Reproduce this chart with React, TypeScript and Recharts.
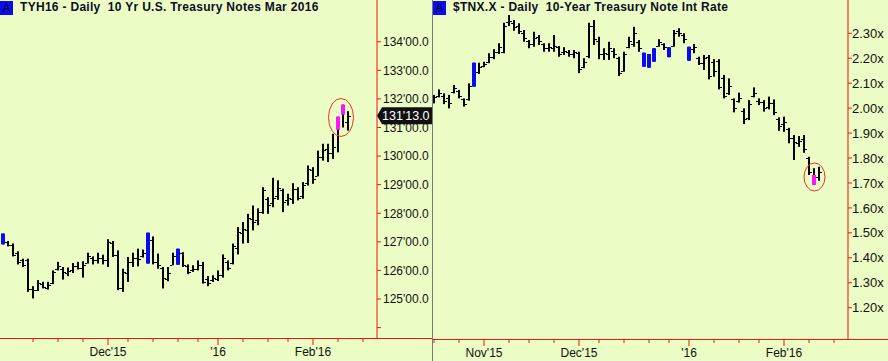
import React from 'react';
import { ComposedChart, Bar, XAxis, YAxis, ReferenceDot } from 'recharts';

const BG = '#ecfcc5';
const RED = '#f01414';
const FONT = 'Arial, "Liberation Sans", sans-serif';

// TYH16 daily bars, index 0 = first visible session (early Nov 2015)
const tyHigh = [
  127.29, 127.03, 126.94, 126.67, 126.41, 126.41, 125.45, 125.66, 125.6, 125.6,
  126.0, 126.3, 126.12, 126.1, 126.26, 126.3, 126.32, 126.62, 126.49, 126.62,
  126.55, 127.09, 127.03, 126.7, 126.06, 126.47, 126.62, 126.76, 126.73, 127.32,
  127.19, 126.59, 126.12, 126.12, 126.62, 126.76, 126.64, 126.21, 126.18, 126.35,
  126.3, 125.8, 125.83, 126.0, 126.56, 126.35, 126.94, 127.52, 127.69, 127.98,
  128.27, 128.17, 128.91, 128.56, 129.24, 129.15, 128.86, 128.68, 129.05, 128.91,
  129.09, 129.67, 129.61, 130.19, 130.43, 130.43, 130.78, 131.38, 131.8, 131.57,
];
const tyLow = [
  126.91, 126.84, 126.49, 126.21, 126.12, 125.25, 125.02, 125.28, 125.37, 125.33,
  125.52, 126.0, 125.68, 125.8, 125.91, 126.03, 125.75, 126.24, 126.21, 126.24,
  126.21, 126.12, 126.47, 125.31, 125.25, 125.6, 126.12, 126.14, 126.45, 126.24,
  126.21, 126.06, 125.37, 125.62, 126.18, 126.2, 126.12, 125.87, 125.95, 126.0,
  125.54, 125.45, 125.6, 125.63, 125.75, 126.0, 126.21, 126.56, 126.94, 126.96,
  127.4, 127.58, 127.98, 127.98, 128.21, 128.47, 128.04, 128.27, 128.33, 128.45,
  128.51, 128.97, 129.03, 129.29, 129.84, 129.79, 129.9, 130.13, 131.0, 130.89,
];
const tyOpen = [
  127.29, 126.98, 126.9, 126.6, 126.35, 126.38, 125.35, 125.3, 125.52, 125.4,
  125.55, 126.05, 126.05, 125.9, 126.0, 126.15, 126.1, 126.25, 126.45, 126.35,
  126.45, 126.35, 126.95, 126.55, 125.4, 125.9, 126.3, 126.45, 126.5, 127.32,
  127.05, 126.3, 126.1, 125.7, 126.2, 126.76, 126.6, 126.15, 126.0, 126.05,
  126.2, 125.7, 125.65, 125.7, 125.85, 126.3, 126.25, 126.8, 127.3, 127.4,
  127.8, 127.75, 128.05, 128.5, 128.35, 128.6, 128.8, 128.45, 128.5, 128.85,
  128.6, 129.05, 129.5, 129.3, 129.95, 130.25, 130.1, 131.38, 131.8, 131.2,
];
const tyClose = [
  126.91, 126.88, 126.55, 126.3, 126.2, 125.35, 125.3, 125.55, 125.42, 125.5,
  125.95, 126.15, 125.95, 125.98, 126.15, 126.1, 126.2, 126.5, 126.35, 126.45,
  126.38, 127.0, 126.55, 125.4, 125.95, 126.3, 126.45, 126.4, 126.6, 126.24,
  126.3, 126.2, 125.75, 125.9, 126.5, 126.2, 126.2, 125.95, 126.05, 126.2,
  125.6, 125.55, 125.75, 125.85, 126.45, 126.1, 126.85, 127.35, 127.45, 127.85,
  127.7, 128.05, 128.8, 128.3, 128.55, 128.9, 128.4, 128.55, 128.85, 128.55,
  129.0, 129.55, 129.2, 129.95, 130.2, 130.1, 130.3, 130.92, 131.45, 131.41,
];
const tyBlue = [0, 29, 35];
const tyMagenta = [67, 68];
const tyPriceTicks = [124, 125, 126, 127, 128, 129, 130, 131, 132, 133, 134];
const tyDateTicks = [6, 11, 16, 21, 25, 30, 35, 39, 43, 48, 53, 57, 62, 67, 72];
const tyMonthIdx = [21, 43, 62];
const tyMonthText = ["Dec'15", "'16", "Feb'16"];
const tyCircle = { i: 67.6, p: 131.35 };

// $TNX.X daily bars, index 0 = first visible session (mid Oct 2015)
const tnxHigh = [
  2.053, 2.075, 2.059, 2.053, 2.093, 2.073, 2.039, 2.099, 2.182, 2.182,
  2.186, 2.22, 2.236, 2.26, 2.342, 2.373, 2.353, 2.34, 2.313, 2.273,
  2.306, 2.293, 2.26, 2.26, 2.293, 2.249, 2.244, 2.233, 2.233, 2.226,
  2.2, 2.342, 2.353, 2.286, 2.24, 2.266, 2.24, 2.206, 2.226, 2.286,
  2.326, 2.273, 2.222, 2.217, 2.24, 2.276, 2.26, 2.244, 2.313, 2.32,
  2.3, 2.246, 2.257, 2.206, 2.213, 2.213, 2.196, 2.196, 2.133, 2.119,
  2.039, 2.062, 1.999, 2.032, 2.083, 2.039, 2.032, 2.046, 2.035, 1.963,
  1.966, 1.921, 1.892, 1.888, 1.892, 1.805, 1.759, 1.765,
];
const tnxLow = [
  2.019, 2.043, 2.016, 1.999, 2.059, 2.039, 2.006, 2.03, 2.086, 2.137,
  2.164, 2.18, 2.196, 2.217, 2.22, 2.329, 2.31, 2.297, 2.266, 2.24,
  2.246, 2.253, 2.226, 2.226, 2.226, 2.206, 2.213, 2.206, 2.2, 2.14,
  2.16, 2.2, 2.253, 2.196, 2.193, 2.193, 2.2, 2.129, 2.146, 2.24,
  2.246, 2.226, 2.166, 2.162, 2.186, 2.246, 2.233, 2.204, 2.246, 2.286,
  2.26, 2.19, 2.22, 2.173, 2.153, 2.115, 2.126, 2.075, 2.039, 2.053,
  1.983, 2.022, 1.936, 1.952, 2.043, 2.012, 1.986, 1.995, 1.972, 1.909,
  1.905, 1.859, 1.792, 1.845, 1.821, 1.732, 1.692, 1.709,
];
const tnxOpen = [
  2.025, 2.05, 2.05, 2.04, 2.065, 2.07, 2.035, 2.035, 2.086, 2.145,
  2.17, 2.185, 2.205, 2.225, 2.225, 2.345, 2.34, 2.33, 2.3, 2.27,
  2.255, 2.285, 2.255, 2.24, 2.24, 2.245, 2.225, 2.225, 2.215, 2.22,
  2.165, 2.21, 2.33, 2.27, 2.215, 2.215, 2.23, 2.2, 2.15, 2.245,
  2.255, 2.265, 2.166, 2.162, 2.186, 2.25, 2.255, 2.204, 2.25, 2.31,
  2.295, 2.19, 2.235, 2.2, 2.18, 2.205, 2.185, 2.19, 2.12, 2.06,
  2.035, 2.03, 1.99, 1.96, 2.05, 2.03, 2.025, 2.005, 2.02, 1.955,
  1.935, 1.915, 1.88, 1.86, 1.875, 1.8, 1.732, 1.725,
];
const tnxClose = [
  2.045, 2.06, 2.03, 2.02, 2.08, 2.05, 2.015, 2.09, 2.182, 2.165,
  2.175, 2.205, 2.225, 2.245, 2.33, 2.35, 2.325, 2.31, 2.28, 2.255,
  2.28, 2.27, 2.24, 2.245, 2.25, 2.215, 2.23, 2.215, 2.225, 2.155,
  2.185, 2.33, 2.275, 2.215, 2.22, 2.24, 2.215, 2.14, 2.215, 2.27,
  2.3, 2.24, 2.222, 2.217, 2.24, 2.265, 2.245, 2.244, 2.3, 2.3,
  2.275, 2.246, 2.245, 2.18, 2.2, 2.13, 2.15, 2.085, 2.05, 2.09,
  2.0, 2.04, 1.955, 2.015, 2.06, 2.025, 2.0, 2.02, 1.985, 1.93,
  1.945, 1.88, 1.865, 1.87, 1.835, 1.745, 1.692, 1.745,
];
const tnxBlue = [8, 42, 43, 44, 47, 51];
const tnxMagenta = [76];
const tnxTicks = [1.2, 1.3, 1.4, 1.5, 1.6, 1.7, 1.8, 1.9, 2.0, 2.1, 2.2, 2.3];
const tnxDateTicks = [0, 5, 10, 15, 19, 24, 29, 33, 38, 43, 47, 51, 56, 61, 65, 70, 75, 80];
const tnxMonthIdx = [10, 29, 51, 70];
const tnxMonthText = ["Nov'15", "Dec'15", "'16", "Feb'16"];
const tnxCircle = { i: 76.1, p: 1.724 };

const toRows = (h: number[], l: number[], o: number[], c: number[]) =>
  h.map((v, i) => ({ i, high: v, low: l[i], open: o[i], close: c[i] }));

const tyData = toRows(tyHigh, tyLow, tyOpen, tyClose);
const tnxData = toRows(tnxHigh, tnxLow, tnxOpen, tnxClose);

function makeOhlc(blue: number[], magenta: number[]) {
  return (props: any) => {
    const { x, y, width, height, payload } = props;
    if (x == null || y == null || !payload) return <g />;
    const cx = Math.round(x + width / 2);
    const top = Math.min(y, y + height);
    const h = Math.abs(height);
    const span = payload.high - payload.low || 1;
    const py = (v: number) => top + ((payload.high - v) / span) * h;
    const paint = blue.includes(payload.i) ? '#0a0af5' : magenta.includes(payload.i) ? '#ff14ff' : null;
    if (paint) {
      const a = py(payload.open);
      const b = py(payload.close);
      return (
        <g>
          <rect x={cx - 1} y={top} width={2} height={h} fill="#000" />
          <rect x={cx - 2} y={Math.min(a, b)} width={4} height={Math.abs(b - a)} fill={paint} />
        </g>
      );
    }
    return (
      <g>
        <rect x={cx - 1} y={top} width={2} height={h} fill="#000" />
        <rect x={cx - 3} y={Math.round(py(payload.open))} width={2} height={1} fill="#000" />
        <rect x={cx + 1} y={Math.round(py(payload.close))} width={2} height={1} fill="#000" />
      </g>
    );
  };
}

function makeDateTick(idx: number[], text: string[]) {
  return (props: any) => {
    const { x, y, payload } = props;
    const k = idx.indexOf(payload.value);
    return (
      <g>
        <line x1={x} x2={x} y1={y} y2={y + (k >= 0 ? 7 : 4)} stroke={RED} />
        {k >= 0 && (
          <text x={x} y={y + 18} textAnchor="middle" fontSize={12} fontFamily={FONT} fill="#111">
            {text[k]}
          </text>
        )}
      </g>
    );
  };
}

const fmt32 = (v: number) => {
  const whole = Math.floor(v);
  const ths = Math.round((v - whole) * 32);
  return `${whole}'${String(ths).padStart(2, '0')}.0`;
};

const lastTy = tyClose[tyClose.length - 1];

const ValueTag = (props: any) => {
  const { cx, cy } = props;
  return (
    <g>
      <path d={`M${cx},${cy} L${cx + 5},${cy - 8.5} H${cx + 55} V${cy + 8.5} H${cx + 5} Z`} fill="#111" />
      <text x={cx + 5} y={cy} dy="0.36em" fill="#fff" fontSize={12.5} fontFamily={FONT}>
        {fmt32(lastTy)}
      </text>
    </g>
  );
};

const ring = (rx: number, ry: number) => (props: any) =>
  <ellipse cx={props.cx} cy={props.cy} rx={rx} ry={ry} fill="none" stroke="#e8322a" strokeWidth={1} />;

const Title = ({ left, text }: { left: number; text: string }) => (
  <div style={{ position: 'absolute', left, top: 0, height: 15, display: 'flex', alignItems: 'center', fontFamily: FONT, fontSize: 12, color: '#0d0d26' }}>
    <div style={{ width: 13, height: 14, background: '#0a0af5', color: '#000', textAlign: 'center', lineHeight: '14px' }}>A</div>
    <div style={{ marginLeft: 7, whiteSpace: 'pre', lineHeight: '15px', fontWeight: 'bold', letterSpacing: 0.3 }}>{text}</div>
  </div>
);

export default function App() {
  return (
    <div style={{ position: 'absolute', left: 0, top: 0, width: 888, height: 361, background: BG, overflow: 'hidden' }}>
      <div style={{ position: 'absolute', left: 0, top: 338, width: 432, height: 1, background: RED }} />
      <div style={{ position: 'absolute', left: 432, top: 339, width: 456, height: 1, background: RED }} />
      <div style={{ position: 'absolute', left: 0, top: 0 }}>
        <ComposedChart width={432} height={361} data={tyData} margin={{ top: 0, right: 0, bottom: 0, left: 0 }}>
          <XAxis
            dataKey="i"
            type="number"
            domain={[-0.6, 74.8]}
            allowDataOverflow
            ticks={tyDateTicks}
            interval={0}
            height={23}
            axisLine={false}
            tickLine={false}
            tickSize={0}
            tickMargin={0}
            tick={makeDateTick(tyMonthIdx, tyMonthText)}
          />
          <YAxis
            orientation="right"
            type="number"
            domain={[123.636, 135.459]}
            allowDataOverflow
            ticks={tyPriceTicks}
            interval={0}
            width={55}
            axisLine={{ stroke: RED }}
            tickLine={{ stroke: RED }}
            tickSize={4}
            tickMargin={2}
            tick={{ fill: '#111', fontSize: 12, fontFamily: FONT }}
            tickFormatter={(v: number) => (v === 124 ? '' : `${v}'00.0`)}
          />
          <Bar dataKey={(d: any) => [d.low, d.high]} barSize={4} isAnimationActive={false} shape={makeOhlc(tyBlue, tyMagenta)} />
          <ReferenceDot x={tyCircle.i} y={tyCircle.p} ifOverflow="visible" shape={ring(12.5, 19)} />
          <ReferenceDot x={74.8} y={lastTy} ifOverflow="visible" shape={ValueTag} />
        </ComposedChart>
      </div>
      <div style={{ position: 'absolute', left: 432, top: 0 }}>
        <ComposedChart width={456} height={361} data={tnxData} margin={{ top: 0, right: 0, bottom: 0, left: 0 }}>
          <XAxis
            dataKey="i"
            type="number"
            domain={[-0.4, 82.8]}
            allowDataOverflow
            ticks={tnxDateTicks}
            interval={0}
            height={22}
            axisLine={false}
            tickLine={false}
            tickSize={0}
            tickMargin={0}
            tick={makeDateTick(tnxMonthIdx, tnxMonthText)}
          />
          <YAxis
            orientation="right"
            type="number"
            domain={[1.0746, 2.4333]}
            allowDataOverflow
            ticks={tnxTicks}
            interval={0}
            width={40}
            axisLine={{ stroke: RED }}
            tickLine={{ stroke: RED }}
            tickSize={4}
            tickMargin={0}
            tick={{ fill: '#111', fontSize: 13, fontFamily: FONT }}
            tickFormatter={(v: number) => `${v.toFixed(2)}x`}
          />
          <Bar dataKey={(d: any) => [d.low, d.high]} barSize={4} isAnimationActive={false} shape={makeOhlc(tnxBlue, tnxMagenta)} />
          <ReferenceDot x={tnxCircle.i} y={tnxCircle.p} ifOverflow="visible" shape={ring(10.5, 14)} />
        </ComposedChart>
      </div>
      <div style={{ position: 'absolute', left: 432, top: 0, width: 1, height: 361, background: '#7a7a7a' }} />
      <Title left={0} text="TYH16 - Daily  10 Yr U.S. Treasury Notes Mar 2016" />
      <Title left={433} text="$TNX.X - Daily  10-Year Treasury Note Int Rate" />
    </div>
  );
}
